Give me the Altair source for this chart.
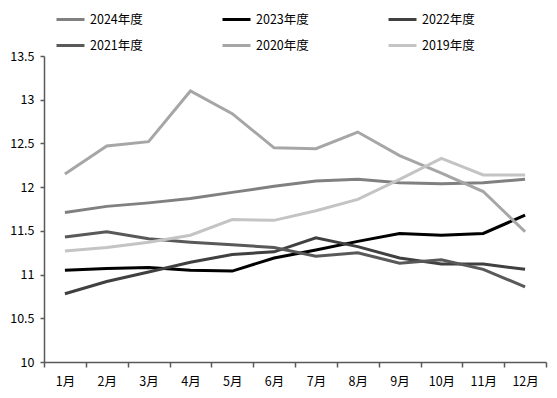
import altair as alt
import pandas as pd

months = ["1月", "2月", "3月", "4月", "5月", "6月", "7月", "8月", "9月", "10月", "11月", "12月"]
series_names = ["2024年度", "2023年度", "2022年度", "2021年度", "2020年度", "2019年度"]
series_colors = ["#808080", "#000000", "#404040", "#595959", "#a6a6a6", "#c4c4c4"]

v2024 = [11.71, 11.78, 11.82, 11.87, 11.94, 12.01, 12.07, 12.09, 12.05, 12.04, 12.05, 12.09]
v2023 = [11.05, 11.07, 11.08, 11.05, 11.04, 11.19, 11.28, 11.38, 11.47, 11.45, 11.47, 11.68]
v2022 = [10.78, 10.92, 11.03, 11.14, 11.23, 11.26, 11.42, 11.32, 11.19, 11.12, 11.12, 11.06]
v2021 = [11.43, 11.49, 11.41, 11.37, 11.34, 11.31, 11.21, 11.25, 11.13, 11.17, 11.06, 10.86]
v2020 = [12.15, 12.47, 12.52, 13.10, 12.84, 12.45, 12.44, 12.63, 12.36, 12.16, 11.95, 11.49]
v2019 = [11.27, 11.31, 11.37, 11.45, 11.63, 11.62, 11.73, 11.86, 12.09, 12.33, 12.14, 12.14]

y_ticks = [10, 10.5, 11, 11.5, 12, 12.5, 13, 13.5]

all_values = [v2024, v2023, v2022, v2021, v2020, v2019]
rows = []
for order, (name, vals) in enumerate(zip(series_names, all_values)):
    for m, v in zip(months, vals):
        rows.append({"月份": m, "值": v, "年度": name, "order": order})
df = pd.DataFrame(rows)

FONT = "Noto Sans CJK SC"

chart = (
    alt.Chart(df)
    .mark_line(strokeWidth=3)
    .encode(
        x=alt.X(
            "月份:O",
            sort=months,
            scale=alt.Scale(type="band", paddingInner=0, paddingOuter=0),
            axis=alt.Axis(
                title=None,
                tickBand="extent",
                labelAngle=0,
                tickSize=5,
                labelPadding=8,
                domainColor="#595959",
                tickColor="#595959",
                domainWidth=1.5,
                tickWidth=1.5,
            ),
        ),
        y=alt.Y(
            "值:Q",
            scale=alt.Scale(domain=[10, 13.5], nice=False, zero=False),
            axis=alt.Axis(
                title=None,
                values=y_ticks,
                format="~g",
                grid=False,
                tickSize=4,
                labelPadding=6,
                domainColor="#595959",
                tickColor="#595959",
                domainWidth=1.5,
                tickWidth=1.5,
            ),
        ),
        color=alt.Color(
            "年度:N",
            scale=alt.Scale(domain=series_names, range=series_colors),
            legend=alt.Legend(
                title=None,
                orient="none",
                legendX=11,
                legendY=-52,
                columns=3,
                direction="horizontal",
                symbolType="stroke",
                symbolSize=784,
                symbolStrokeWidth=3,
                labelOffset=4,
                columnPadding=73,
                rowPadding=4,
                padding=0,
                labelFontSize=12.5,
                labelFont=FONT,
                labelColor="#000000",
            ),
        ),
        order=alt.Order("order:Q", sort="descending"),
    )
    .properties(
        width=502,
        height=306,
        autosize=alt.AutoSizeParams(type="none"),
        padding={"left": 36, "top": 48, "right": 3, "bottom": 28},
    )
    .configure_axis(labelFont=FONT, labelFontSize=12.5, labelColor="#000000")
    .configure_view(stroke=None)
)

chart.save("out.html", embed_options={"renderer": "svg", "actions": False})
